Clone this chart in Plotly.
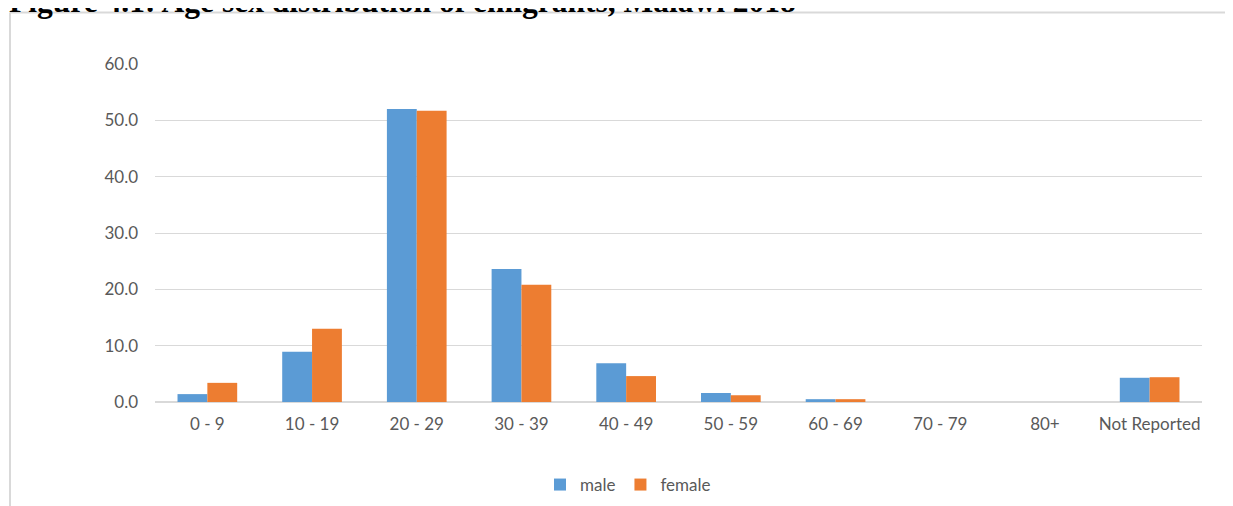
import plotly.graph_objects as go

categories = ["0 - 9", "10 - 19", "20 - 29", "30 - 39", "40 - 49", "50 - 59",
              "60 - 69", "70 - 79", "80+", "Not Reported"]
male = [1.4, 8.9, 52.0, 23.6, 6.9, 1.6, 0.5, 0.0, 0.0, 4.3]
female = [3.4, 13.0, 51.7, 20.8, 4.6, 1.2, 0.5, 0.0, 0.0, 4.4]
y_ticks = [0, 10, 20, 30, 40, 50, 60]
title_text = "Figure 4.1: Age sex distribution of emigrants, Malawi 2018"

# The page body has an 8px margin; work in page pixel coordinates and shift.
OFF = 8
W, H = 1233 - OFF, 506 - OFF
ml, mr, mt, mb = 155 - OFF, 1233 - 1202, 64 - OFF, 506 - 402
pw, ph = W - ml - mr, H - mt - mb

def px_x(x):  # page x -> paper fraction
    return (x - OFF - ml) / pw

def px_y(y):  # page y -> paper fraction
    return (H - mb - (y - OFF)) / ph

fig = go.Figure()
fig.add_trace(go.Bar(name="male", x=categories, y=male, marker_color="#5b9bd5",
                     marker_line_width=0))
fig.add_trace(go.Bar(name="female", x=categories, y=female, marker_color="#ed7d31",
                     marker_line_width=0))

font_family = "Lato, Carlito, Calibri, sans-serif"
fig.update_layout(
    width=W, height=H,
    margin=dict(l=ml, r=mr, t=mt, b=mb, pad=0, autoexpand=False),
    paper_bgcolor="white", plot_bgcolor="white",
    barmode="group", bargap=0.43, bargroupgap=0,
    font=dict(family=font_family, size=17, color="#595959"),
    showlegend=True,
    legend=dict(orientation="h", x=px_x(628), xanchor="center", y=px_y(485), yanchor="middle",
                font=dict(size=17, color="#595959"), itemwidth=30, traceorder="normal"),
    xaxis=dict(showgrid=False, showline=False, ticks="", ticklabelstandoff=10,
               tickfont=dict(size=17, color="#595959")),
    yaxis=dict(range=[0, 60], tickvals=y_ticks, tickformat=".1f", showgrid=True,
               gridcolor="#d9d9d9", gridwidth=1, zeroline=True, zerolinecolor="#d9d9d9",
               zerolinewidth=2, showline=False, ticks="", ticklabelstandoff=16,
               tickfont=dict(size=17, color="#595959")),
)

# Outer frame (partially visible chart border)
fig.add_shape(type="line", xref="paper", yref="paper",
              x0=px_x(10), x1=px_x(10), y0=px_y(12.5), y1=px_y(520),
              line=dict(color="#d9d9d9", width=2))
fig.add_shape(type="line", xref="paper", yref="paper",
              x0=px_x(10), x1=px_x(1240), y0=px_y(12.5), y1=px_y(12.5),
              line=dict(color="#d9d9d9", width=2))

# Cut-off title at top (as in the reference)
fig.add_annotation(text="<b>" + title_text + "</b>", xref="paper", yref="paper",
                   x=px_x(7), y=px_y(1), xanchor="left", yanchor="middle",
                   showarrow=False,
                   font=dict(family="Liberation Serif, Times New Roman, serif", size=31.5,
                             color="black"))

fig.write_html("out.html")
